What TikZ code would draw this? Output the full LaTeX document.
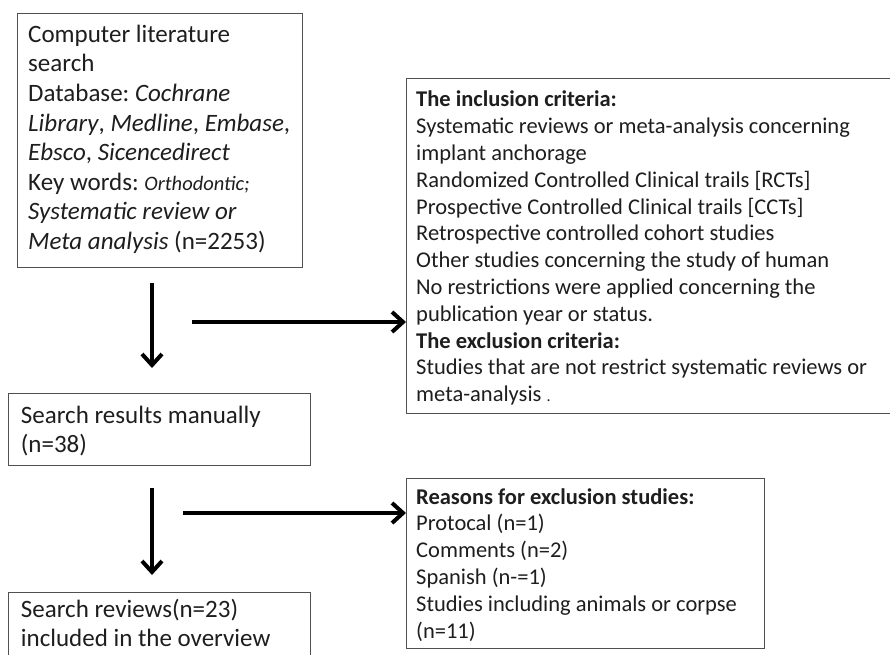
\documentclass[tikz,border=0pt]{standalone}
\usepackage{fontspec}
\setmainfont{Carlito}
\usetikzlibrary{arrows.meta}
\definecolor{boxgray}{RGB}{80,80,80}
\definecolor{txtcol}{RGB}{30,30,30}
\frenchspacing
\newcommand{\normsp}{\spaceskip=0pt\xspaceskip=0pt\relax}
\begin{document}
\begin{tikzpicture}[x=1pt,y=-1pt,
  frame/.style={draw=boxgray, line width=1.2pt, inner sep=0pt, anchor=north west},
  txtbase/.style={anchor=north west, inner sep=0pt, align=left, text width=#1, text=txtcol},
  txtbase/.default=520pt,
  bigtxt/.style={txtbase=360pt, font=\fontsize{25}{29.6}\selectfont\frenchspacing},
  smalltxt/.style={txtbase=520pt, font=\fontsize{22.5}{26.8}\selectfont\frenchspacing},
  flow/.style={line width=4pt, -{Straight Barb[length=11pt,width=20pt]}}]
\useasboundingbox (0,0) rectangle (890,654);
\fill[white] (0,0) rectangle (890,654);
% boxes
\node[frame, minimum width=285pt, minimum height=254pt] (b1) at (17,13) {};
\node[frame, minimum width=489pt, minimum height=335pt] (b2) at (406,78) {};
\node[frame, minimum width=302pt, minimum height=72pt] (b3) at (8,393) {};
\node[frame, minimum width=302pt, minimum height=90pt] (b4) at (8,592) {};
\node[frame, minimum width=358pt, minimum height=170pt] (b5) at (406,478) {};
% texts
\node[bigtxt] (t1) at (28,21.3) {\normsp\strut Computer literature\\
search\\
Database: \textit{Cochrane}\\
\textit{Library}, \textit{Medline}, \textit{Embase},\\
\textit{Ebsco}, \textit{Sicencedirect}\\
Key words: {\fontsize{20.5}{29.6}\selectfont\itshape Orthodontic;}\\
\textit{Systematic review or}\\
\textit{Meta analysis} (n=2253)};
\node[smalltxt] (t2) at (416,87.9) {\normsp\strut\textbf{The inclusion criteria:}\\
Systematic reviews or meta-analysis concerning\\
implant anchorage\\
Randomized Controlled Clinical trails [RCTs]\\
Prospective Controlled Clinical trails [CCTs]\\
Retrospective controlled cohort studies\\
Other studies concerning the study of human\\
No restrictions were applied concerning the\\
publication year or status.\\
\textbf{The exclusion criteria:}\\
Studies that are not restrict systematic reviews or\\
meta-analysis {\fontsize{16}{26.8}\selectfont .}};
\node[bigtxt] (t3) at (20.7,402.3) {\normsp\strut Search results manually\\
(n=38)};
\node[bigtxt] (t4) at (20.7,596.3) {\normsp\strut Search reviews(n=23)\\
included in the overview};
\node[smalltxt] (t5) at (416,485.2) {\normsp\strut\textbf{Reasons for exclusion studies:}\\
Protocal (n=1)\\
Comments (n=2)\\
Spanish (n-=1)\\
Studies including animals or corpse\\
(n=11)};
% connectors
\coordinate (d1s) at (152,283);
\coordinate (d1e) at (152,368);
\coordinate (d2s) at (152,488);
\coordinate (d2e) at (152,575);
\coordinate (h1s) at (192,322);
\coordinate (h2s) at (183,513);
\draw[flow] (d1s) -- (d1e);
\draw[flow] (d2s) -- (d2e);
\draw[flow] (h1s) -- (h1s -| b2.west);
\draw[flow] (h2s) -- (h2s -| b5.west);
\end{tikzpicture}
\end{document}
